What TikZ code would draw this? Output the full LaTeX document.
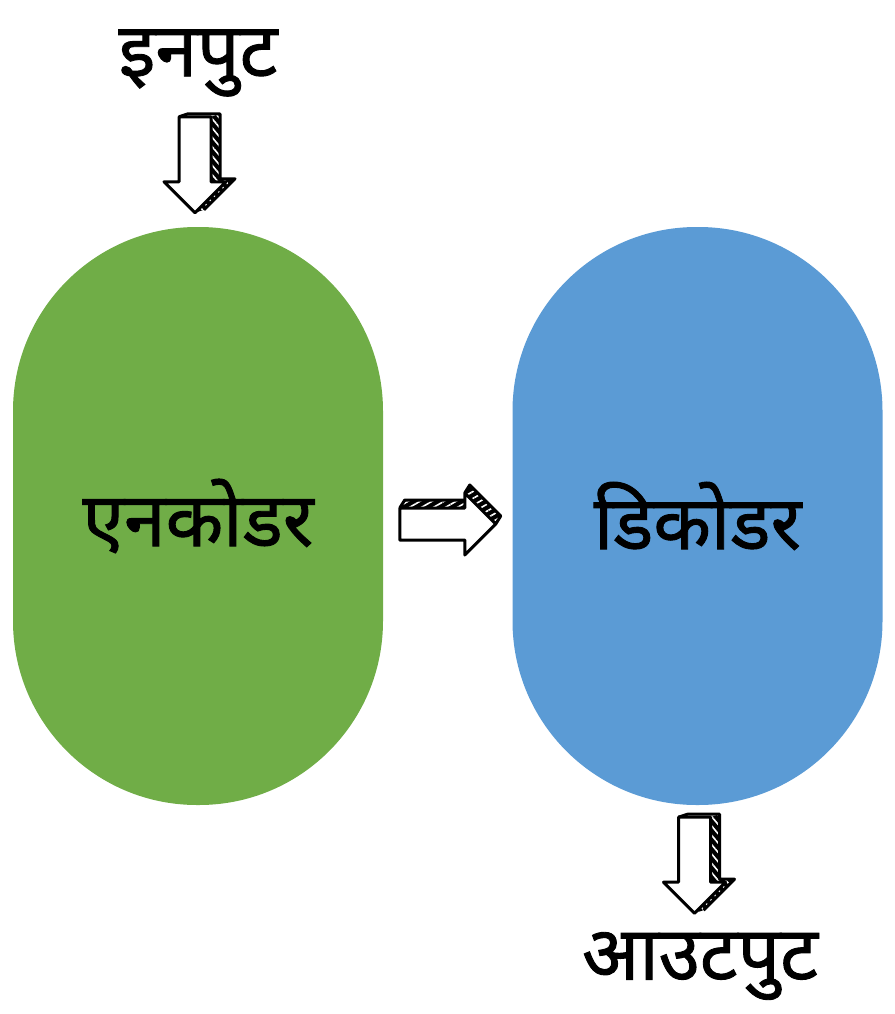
\documentclass[tikz,border=0pt]{standalone}
\usepackage{fontspec}
\newfontfamily\devfont[Script=Devanagari,FakeBold=1.2]{Noto Sans}
\usetikzlibrary{calc,positioning,patterns.meta}
\definecolor{encgreen}{HTML}{70AD47}
\definecolor{decblue}{HTML}{5B9BD5}

\tikzset{
  hatch/.style={fill=black,postaction={pattern={Lines[angle=#1,distance=6pt,line width=1.6pt]},pattern color=white}},
  sketch/.style={draw=black,line width=3pt,line join=round},
  downarrow/.pic={
    \fill[hatch=-50] (16,-48) -- (25,-51) -- (25,14) -- (40,14) -- (9,45) -- (0,48) -- (31,17) -- (16,17) -- cycle;
    \draw[sketch] (-16,-48) -- (-7,-51) -- (25,-51) -- (25,14) -- (40,14) -- (9,45);
    \draw[sketch,fill=white] (-16,-48) -- (16,-48) -- (16,17) -- (31,17) -- (0,48) -- (-31,17) -- (-16,17) -- cycle;
  },
  rightarrow/.pic={
    \fill[hatch=30] (-48,-16) -- (-43,-24) -- (17,-24) -- (17,-16) -- cycle;
    \fill[hatch=30] (17,-31) -- (22,-39) -- (53,-8) -- (48,0) -- cycle;
    \draw[sketch] (-48,-16) -- (-43,-24) -- (17,-24);
    \draw[sketch] (17,-31) -- (22,-39) -- (53,-8) -- (48,0);
    \draw[sketch,fill=white] (-48,-16) -- (17,-16) -- (17,-31) -- (48,0) -- (17,31) -- (17,16) -- (-48,16) -- cycle;
  }
}

\begin{document}
\begin{tikzpicture}[x=1pt,y=-1pt,
  stage/.style={rectangle,rounded corners=184pt,minimum width=370pt,minimum height=578pt,inner sep=0pt,
    font=\devfont\fontsize{75}{90}\selectfont},
  word/.style={inner sep=0pt,font=\devfont\fontsize{75}{90}\selectfont}]
\useasboundingbox (0,0) rectangle (894,1014);

\node[stage,fill=encgreen] (enc) at (198,516) {एनकोडर};
\node[stage,fill=decblue] (dec) at (697.5,516) {डिकोडर};
\node[word] (in) at (198,63) {इनपुट};
\node[word] (out) at (700,966) {आउटपुट};

\pic at ($(enc.north)+(-3,-62)$) {downarrow};
\pic at ($(enc.east)!0.5!(dec.west)+(0,8)$) {rightarrow};
\pic at ($(dec.south)+(-3,60)$) {downarrow};

\end{tikzpicture}
\end{document}
